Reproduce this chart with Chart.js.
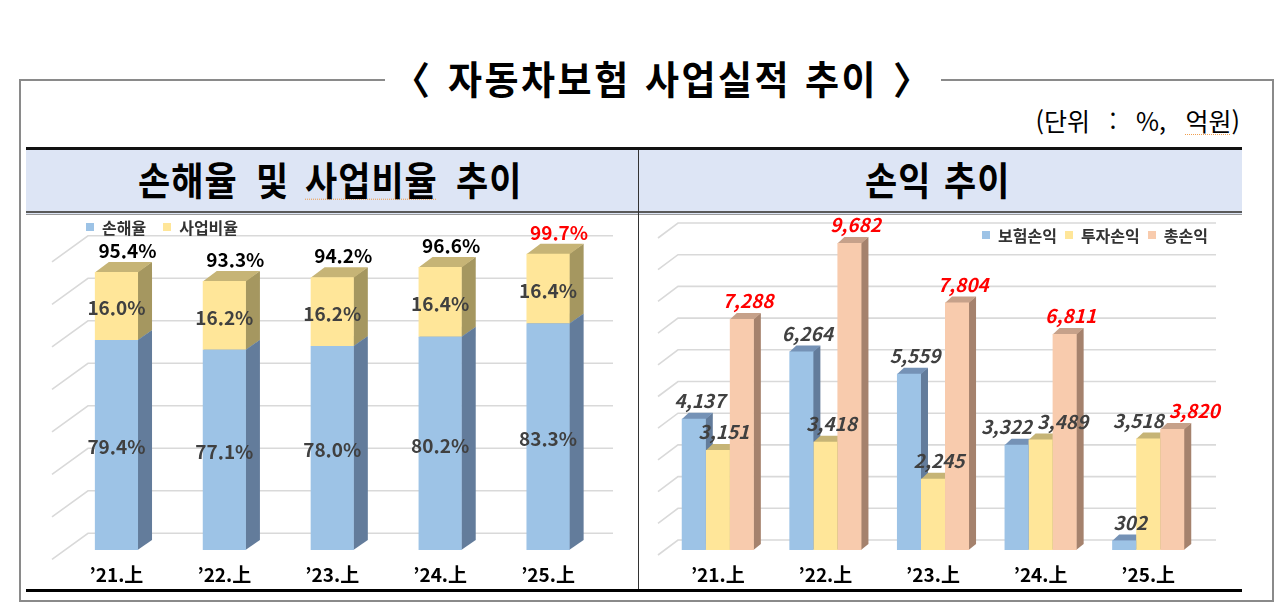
<!DOCTYPE html>
<html lang="ko">
<head>
<meta charset="utf-8">
<script src="https://cdn.jsdelivr.net/npm/chart.js@4.4.1/dist/chart.umd.min.js"></script>
<style>
html,body{margin:0;padding:0;background:#fff;}
body{width:1280px;height:614px;position:relative;overflow:hidden;font-family:"Noto Sans CJK KR","Noto Sans",sans-serif;color:#000;}
.abs{position:absolute;}
#box{left:19px;top:79px;width:1251px;height:519px;border:2px solid #8a8a8a;}
#titleCover{left:385px;top:70px;width:556px;height:22px;background:#fff;}
.tw{position:absolute;top:60px;font-size:37px;line-height:37px;font-weight:700;letter-spacing:2.5px;white-space:pre;transform:scaleY(1.03);transform-origin:50% 55%;}
#unit{right:40px;top:108px;font-size:25px;line-height:25px;white-space:pre;word-spacing:12.5px;}
#band{left:26px;top:147px;width:1216px;height:64px;background:#dde5f5;border-top:3px solid #111;}
#dl1{left:26px;top:211px;width:1216px;height:2px;background:#5a5a5a;}
#dl2{left:26px;top:214px;width:1216px;height:1px;background:#9a9a9a;}
#vdiv{left:638px;top:150px;width:1px;height:440px;background:#333;}
#bottomLine{left:26px;top:589px;width:1216px;height:3px;background:#000;}
.hw{position:absolute;top:161px;font-size:35px;line-height:35px;font-weight:700;letter-spacing:1px;white-space:pre;transform:scaleY(1.1);transform-origin:50% 55%;}
.sq{text-decoration-line:underline;text-decoration-style:dotted;text-decoration-color:#f0a050;text-decoration-thickness:1px;text-underline-offset:3px;}
canvas{position:absolute;}
#c1{left:26px;top:215px;}
#c2{left:640px;top:215px;}
.legend{position:absolute;display:flex;align-items:center;font-size:16px;line-height:16px;font-weight:700;color:#333;white-space:nowrap;}
.legend .item{display:flex;align-items:center;}
.legend .box{width:8px;height:8px;margin-right:8px;}
</style>
</head>
<body>
<div id="box" class="abs"></div>
<div id="titleCover" class="abs"></div>
<span class="tw" style="left:393px">〈</span>
<span class="tw" style="left:448px">자동차보험</span>
<span class="tw" style="left:645px">사업실적</span>
<span class="tw" style="left:805px">추이</span>
<span class="tw" style="left:893px">〉</span>
<div id="unit" class="abs">(단위 : %, <span class="sq">억원</span>)</div>

<div id="band" class="abs"></div>
<div id="dl1" class="abs"></div>
<div id="dl2" class="abs"></div>
<div id="vdiv" class="abs"></div>
<div id="bottomLine" class="abs"></div>
<span class="hw" style="left:138px">손해율</span>
<span class="hw" style="left:256px">및</span>
<span class="hw sq" style="left:305px">사업비율</span>
<span class="hw" style="left:456px">추이</span>
<span class="hw" style="left:865px">손익</span>
<span class="hw" style="left:944px">추이</span>

<canvas id="c1" width="612" height="386"></canvas>
<canvas id="c2" width="602" height="386"></canvas>
<div id="legend1" class="legend" style="left:86px;top:219px"></div>
<div id="legend2" class="legend" style="left:982px;top:227px"></div>

<script>
// ---------- data ----------
const periods = ['’21.上', '’22.上', '’23.上', '’24.上', '’25.上'];

const lossRatioLabel = '손해율';
const expenseRatioLabel = '사업비율';
const lossRatio = [79.4, 77.1, 78.0, 80.2, 83.3];
const expenseRatio = [16.0, 16.2, 16.2, 16.4, 16.4];
const combinedRatio = [95.4, 93.3, 94.2, 96.6, 99.7];
const ratioTicks = [30, 40, 50, 60, 70, 80, 90, 100];

const insuranceLabel = '보험손익';
const investmentLabel = '투자손익';
const totalLabel = '총손익';
const insuranceProfit = [4137, 6264, 5559, 3322, 302];
const investmentProfit = [3151, 3418, 2245, 3489, 3518];
const totalProfit = [7288, 9682, 7804, 6811, 3820];
const profitTicks = [0, 1000, 2000, 3000, 4000, 5000, 6000, 7000, 8000, 9000, 10000];

// ---------- styles ----------
const FONT = '"Noto Sans CJK KR", "Noto Sans", sans-serif';
const C = {
  blue: '#9dc3e6', blueSide: '#637c9b', blueTop: '#7592b6',
  yellow: '#ffe699', yellowSide: '#a59760', yellowTop: '#c6b476',
  salmon: '#f8cbad', salmonSide: '#a5826d', salmonTop: '#c6a18a',
  grid: '#d9d9d9'
};

// back-wall gridlines + side-wall diagonals (3D look)
const wall3d = {
  id: 'wall3d',
  beforeDatasetsDraw(chart, args, o) {
    const {ctx, chartArea: a, scales: {y}} = chart;
    ctx.save();
    ctx.strokeStyle = o.color;
    ctx.lineWidth = o.lineWidth;
    o.ticks.forEach(v => {
      const yb = y.getPixelForValue(v) - o.backDy;
      const xl = a.left + o.leftOffset, xr = a.right + o.rightOffset;
      ctx.beginPath();
      ctx.moveTo(xl - o.diagDx, yb + o.diagDy);
      ctx.lineTo(xl, yb);
      ctx.lineTo(xr, yb);
      ctx.stroke();
    });
    ctx.restore();
  }
};

// side and top faces of every bar, drawn in dataset order before the front faces
const bar3d = {
  id: 'bar3d',
  beforeDatasetsDraw(chart, args, o) {
    const {ctx} = chart;
    ctx.save();
    chart.data.datasets.forEach((ds, i) => {
      chart.getDatasetMeta(i).data.forEach(el => {
        const {x, y, base, width} = el.getProps(['x', 'y', 'base', 'width'], true);
        const x0 = x - width / 2, x1 = x + width / 2;
        const top = Math.min(y, base), bot = Math.max(y, base);
        ctx.fillStyle = ds.sideColor;
        ctx.beginPath();
        ctx.moveTo(x1 - 0.5, top);
        ctx.lineTo(x1 + o.dx, top - o.dy);
        ctx.lineTo(x1 + o.dx, bot - o.dy);
        ctx.lineTo(x1 - 0.5, bot);
        ctx.closePath();
        ctx.fill();
        ctx.fillStyle = ds.topColor;
        ctx.beginPath();
        ctx.moveTo(x0, top + 0.5);
        ctx.lineTo(x0 + o.dx, top - o.dy);
        ctx.lineTo(x1 + o.dx, top - o.dy);
        ctx.lineTo(x1, top + 0.5);
        ctx.closePath();
        ctx.fill();
      });
    });
    ctx.restore();
  }
};

const ratioLabels = {
  id: 'ratioLabels',
  afterDatasetsDraw(chart, args, o) {
    const {ctx} = chart;
    ctx.save();
    ctx.textAlign = 'center';
    ctx.textBaseline = 'middle';
    chart.data.datasets.forEach((ds, i) => {
      chart.getDatasetMeta(i).data.forEach((el, j) => {
        ctx.font = o.innerFont;
        ctx.fillStyle = o.innerColor;
        ctx.fillText(ds.data[j].toFixed(1) + '%', el.x, (el.y + el.base) / 2 + o.innerDy);
      });
    });
    const topMeta = chart.getDatasetMeta(chart.data.datasets.length - 1);
    topMeta.data.forEach((el, j) => {
      ctx.font = o.totalFont;
      ctx.fillStyle = j === combinedRatio.length - 1 ? o.highlightColor : o.totalColor;
      ctx.fillText(combinedRatio[j].toFixed(1) + '%', el.x + o.totalDx, el.y - o.totalDy);
    });
    ctx.restore();
  }
};

const profitLabels = {
  id: 'profitLabels',
  afterDatasetsDraw(chart, args, o) {
    const {ctx} = chart;
    const items = [];
    chart.data.datasets.forEach((ds, i) => {
      chart.getDatasetMeta(i).data.forEach((el, j) => {
        const isTotal = i === o.totalIndex;
        const font = isTotal ? o.totalFont : o.font;
        ctx.font = font;
        const text = ds.data[j].toLocaleString('en-US');
        items.push({cat: j, text, font,
          color: isTotal ? o.totalColor : o.color,
          x: el.x + o.dx, y: Math.min(el.y, el.base) - o.dy,
          w: ctx.measureText(text).width});
      });
    });
    // push apart labels of neighbouring bars that would overlap
    for (let j = 0; j < periods.length; j++) {
      const list = items.filter(it => it.cat === j).sort((a, b) => a.x - b.x);
      for (let k = 1; k < list.length; k++) {
        const a = list[k - 1], b = list[k];
        const need = (a.w + b.w) / 2 + o.gap;
        if (Math.abs(a.y - b.y) < o.h && b.x - a.x < need) {
          const s = (need - (b.x - a.x)) / 2;
          a.x -= s; b.x += s;
        }
      }
    }
    ctx.save();
    ctx.textAlign = 'center';
    ctx.textBaseline = 'middle';
    items.forEach(it => {
      ctx.font = it.font;
      ctx.fillStyle = it.color;
      ctx.fillText(it.text, it.x, it.y);
    });
    ctx.restore();
  }
};

function xAxis() {
  return {
    type: 'category',
    offset: true,
    grid: {display: false, drawTicks: false},
    border: {display: false},
    ticks: {color: '#000', padding: 13, font: {family: FONT, size: 19, weight: 'bold'}}
  };
}

function htmlLegend(chart, id, spacing) {
  const el = document.getElementById(id);
  chart.data.datasets.forEach((ds, i) => {
    const item = document.createElement('div');
    item.className = 'item';
    if (i > 0) item.style.marginLeft = spacing + 'px';
    const box = document.createElement('span');
    box.className = 'box';
    box.style.background = ds.backgroundColor;
    const t = document.createElement('span');
    t.textContent = ds.label;
    item.appendChild(box);
    item.appendChild(t);
    el.appendChild(item);
  });
}

// ---------- chart 1: loss ratio & expense ratio ----------
const chart1 = new Chart(document.getElementById('c1'), {
  type: 'bar',
  data: {
    labels: periods,
    datasets: [
      {label: lossRatioLabel, data: lossRatio, base: ratioTicks[0],
       backgroundColor: C.blue, sideColor: C.blueSide, topColor: C.blueTop},
      {label: expenseRatioLabel, data: expenseRatio,
       backgroundColor: C.yellow, sideColor: C.yellowSide, topColor: C.yellowTop}
    ]
  },
  options: {
    responsive: false,
    animation: false,
    datasets: {bar: {barPercentage: 0.4, categoryPercentage: 1.0, borderWidth: 0}},
    layout: {padding: {left: 36.5, right: 36, top: 37.5, bottom: 2.2}},
    scales: {
      x: Object.assign(xAxis(), {stacked: true}),
      y: {display: false, stacked: true, min: ratioTicks[0], max: ratioTicks[ratioTicks.length - 1]}
    },
    plugins: {
      legend: {display: false},
      tooltip: {enabled: false},
      wall3d: {ticks: ratioTicks, color: C.grid, lineWidth: 1.6, backDy: 16.7,
               leftOffset: 25.5, rightOffset: 11, diagDx: 36, diagDy: 26},
      bar3d: {dx: 14, dy: 10},
      ratioLabels: {innerFont: 'bold 19px ' + FONT, innerColor: '#404040', innerDy: 2,
                    totalFont: 'bold 19px ' + FONT, totalColor: '#000', highlightColor: '#ff0000',
                    totalDx: 11, totalDy: 21}
    }
  },
  plugins: [wall3d, bar3d, ratioLabels]
});
htmlLegend(chart1, 'legend1', 17);

// ---------- chart 2: profit ----------
const chart2 = new Chart(document.getElementById('c2'), {
  type: 'bar',
  data: {
    labels: periods,
    datasets: [
      {label: insuranceLabel, data: insuranceProfit,
       backgroundColor: C.blue, sideColor: C.blueSide, topColor: C.blueTop},
      {label: investmentLabel, data: investmentProfit,
       backgroundColor: C.yellow, sideColor: C.yellowSide, topColor: C.yellowTop},
      {label: totalLabel, data: totalProfit,
       backgroundColor: C.salmon, sideColor: C.salmonSide, topColor: C.salmonTop}
    ]
  },
  options: {
    responsive: false,
    animation: false,
    datasets: {bar: {barPercentage: 1.0, categoryPercentage: 0.67, borderWidth: 0}},
    layout: {padding: {left: 24, right: 40, top: 18, bottom: 2.2}},
    scales: {
      x: xAxis(),
      y: {display: false, min: profitTicks[0], max: profitTicks[profitTicks.length - 1]}
    },
    plugins: {
      legend: {display: false},
      tooltip: {enabled: false},
      wall3d: {ticks: profitTicks, color: C.grid, lineWidth: 1.6, backDy: 10,
               leftOffset: 14, rightOffset: 14, diagDx: 20, diagDy: 15},
      bar3d: {dx: 7, dy: 6},
      profitLabels: {font: 'italic bold 19px ' + FONT, color: '#404040',
                     totalFont: 'italic bold 19px ' + FONT, totalColor: '#ff0000', totalIndex: 2,
                     dx: 6, dy: 18, gap: 5, h: 20}
    }
  },
  plugins: [wall3d, bar3d, profitLabels]
});
htmlLegend(chart2, 'legend2', 8);
</script>
</body>
</html>
